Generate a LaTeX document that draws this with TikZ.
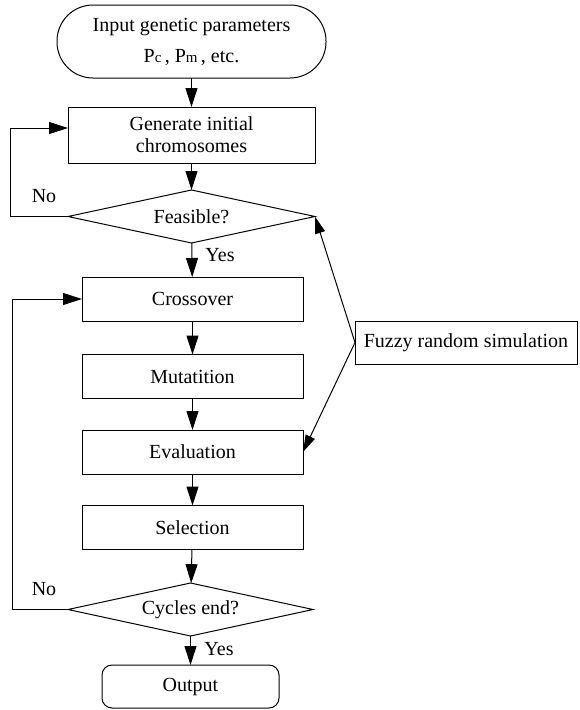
\documentclass[tikz,border=0pt]{standalone}
\usepackage{fontspec}
\setmainfont{Liberation Serif}
\usetikzlibrary{shapes.geometric,arrows.meta}
\newcommand{\smallsub}[1]{{\fontsize{15}{15}\selectfont #1}}
\begin{document}
\begin{tikzpicture}[x=1pt,y=-1pt,
  line width=1pt,
  every node/.style={font=\fontsize{20}{22}\selectfont, inner sep=0pt, outer sep=0pt},
  proc/.style={draw, rectangle, minimum width=221pt, minimum height=44pt, align=center},
  decide/.style={draw, diamond, aspect=4.6, minimum width=247pt, minimum height=53pt},
  flow/.style={-{Triangle[length=19pt,width=12pt]}},
  side/.style={-{Triangle[length=17pt,width=10pt]}}
]
\useasboundingbox (0,0) rectangle (579,710);

% main column
\node[draw, rectangle, rounded corners=36pt, minimum width=269pt, minimum height=73pt,
      align=center, font=\fontsize{20}{31}\selectfont] (input) at (191.5,41.5)
      {Input genetic parameters\\P\smallsub{c}\,, P\smallsub{m}\,, etc.};
\node[proc, minimum width=247pt, minimum height=56pt] (gen) at (191.5,135)
      {Generate initial\\chromosomes};
\node[decide] (feas) at (191.5,216.5) {Feasible?};
\node[proc] (cross) at (192.5,299) {Crossover};
\node[proc] (mut) at (192.5,376.5) {Mutatition};
\node[proc] (eval) at (192.5,452) {Evaluation};
\node[proc] (sel) at (192.5,527.5) {Selection};
\node[decide, minimum width=245pt] (cyc) at (190.5,609.5) {Cycles end?};
\node[draw, rectangle, rounded corners=10pt, minimum width=177pt, minimum height=43pt]
      (out) at (190.5,686.5) {Output};

% side process
\node[draw, rectangle, minimum width=222pt, minimum height=43pt] (fuzzy) at (466,342.5)
      {Fuzzy random simulation};

% branch labels
\node (no1) at (44,196) {No};
\node (yes1) at (220,255) {Yes};
\node (no2) at (44,589) {No};
\node (yes2) at (219,649) {Yes};

% loop corners
\coordinate (loopA) at (10,216.5);
\coordinate (loopB) at (12,609.5);

% connectors
\draw[flow] (input) -- (gen);
\draw[flow] (gen) -- (feas);
\draw[flow] (feas) -- (cross);
\draw[flow] (cross) -- (mut);
\draw[flow] (mut) -- (eval);
\draw[flow] (eval) -- (sel);
\draw[flow] (sel) -- (cyc);
\draw[flow] (cyc) -- (out);
\draw[flow] (feas.west) -- (loopA) |- ([yshift=7pt]gen.west);
\draw[flow] (cyc.west) -- (loopB) |- (cross.west);
\draw[side] (fuzzy.west) -- (feas.east);
\draw[side] (fuzzy.west) -- (eval.east);
\end{tikzpicture}
\end{document}
